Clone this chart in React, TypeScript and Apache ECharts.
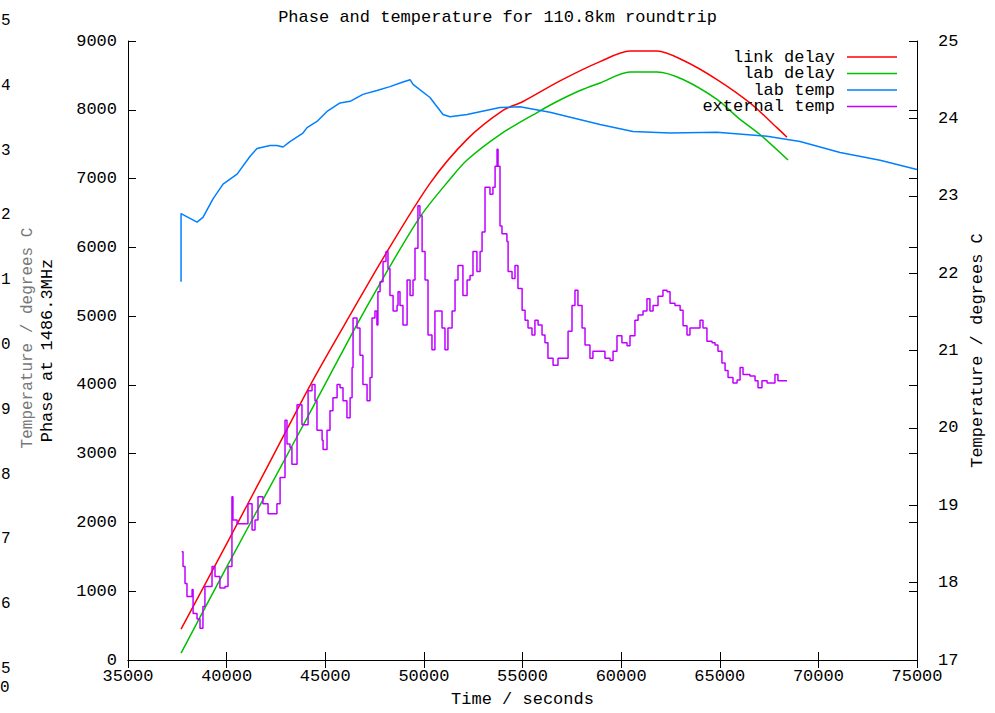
import React, { useEffect, useRef } from "react";
import * as echarts from "echarts";

const FONT = "Liberation Mono";

const titleText = "Phase and temperature for 110.8km roundtrip";
const xName = "Time / seconds";
const yLeftName = "Phase at 1486.3MHz";
const yRightName = "Temperature / degrees C";

const seriesNames = ["link delay", "lab delay", "lab temp", "external temp"];
const seriesColors = ["#ff0000", "#00c000", "#0080ff", "#c000ff"];

// [seconds, phase]
const linkDelay: number[][] = [
  [37690, 450], [40020, 1700], [42050, 2800], [44380, 4070], [46410, 5090],
  [47930, 5840], [50310, 6930], [52190, 7570], [54010, 7990], [55030, 8120],
  [56900, 8420], [58930, 8700], [60450, 8855], [61820, 8855], [63140, 8720],
  [64860, 8440], [66530, 8100], [67900, 7740], [68410, 7600],
];

const labDelay: number[][] = [
  [37690, 100], [40020, 1360], [42710, 2790], [44380, 3680], [46610, 4880],
  [47930, 5550], [49800, 6440], [51320, 6990], [52190, 7270], [53860, 7640],
  [55740, 7960], [56750, 8120], [57920, 8280], [58930, 8390], [60450, 8550],
  [61820, 8550], [63140, 8440], [64860, 8150], [66030, 7860], [67040, 7640],
  [68460, 7270],
];

// [seconds, degrees C]
const labTemp: number[][] = [
  [37690, 21.89], [37690, 22.77], [38500, 22.66], [38800, 22.72], [39310, 22.96],
  [39820, 23.15], [40530, 23.28], [41190, 23.51], [41540, 23.61], [42200, 23.65],
  [42550, 23.65], [42860, 23.63], [43210, 23.70], [43870, 23.81], [44080, 23.88],
  [44580, 23.96], [45090, 24.09], [45750, 24.20], [46260, 24.22], [46910, 24.31],
  [47620, 24.36], [48280, 24.41], [48940, 24.47], [49300, 24.50], [49450, 24.44],
  [50310, 24.27], [50970, 24.05], [51320, 24.02], [52190, 24.05], [53860, 24.14],
  [54870, 24.15], [56390, 24.08], [58930, 23.92], [60600, 23.83], [62480, 23.81],
  [64860, 23.82], [67400, 23.77], [69070, 23.70], [71100, 23.56], [73130, 23.46],
  [75000, 23.34],
];

const externalTemp: number[][] = [
  [37720, 18.40], [37790, 18.21], [37890, 17.99], [37990, 17.82], [38250, 17.91],
  [38300, 17.60], [38500, 17.53], [38650, 17.41], [38800, 17.69], [38900, 17.95],
  [39260, 18.21], [39410, 18.08], [39660, 17.93], [39920, 17.95], [40070, 18.21],
  [40270, 19.11], [40320, 18.81], [40530, 18.76], [40930, 18.76], [41080, 19.02],
  [41290, 18.68], [41440, 18.81], [41590, 19.11], [41840, 19.02], [42100, 18.89],
  [42450, 18.89], [42550, 19.02], [42710, 19.36], [42960, 20.10], [43060, 19.79],
  [43210, 19.75], [43310, 19.53], [43470, 19.53], [43570, 20.30], [43820, 20.04],
  [44080, 20.04], [44130, 20.48], [44330, 20.56], [44480, 20.35], [44580, 19.97],
  [44840, 19.84], [44890, 19.72], [45090, 19.97], [45240, 20.22], [45390, 20.39],
  [45600, 20.56], [45750, 20.52], [45900, 20.35], [46100, 20.13], [46260, 20.39],
  [46360, 20.78], [46410, 21.42], [46610, 21.29], [46760, 20.94], [46910, 20.56],
  [47120, 20.35], [47270, 20.65], [47370, 21.42], [47520, 21.51], [47620, 21.33],
  [47670, 21.76], [47780, 21.89], [47930, 22.15], [48080, 22.28], [48180, 22.06],
  [48280, 21.71], [48440, 21.51], [48640, 21.58], [48690, 21.76], [48790, 21.58],
  [48940, 21.33], [49150, 21.91], [49300, 21.71], [49450, 21.91], [49550, 22.32],
  [49700, 22.87], [49800, 22.74], [49910, 22.28], [50060, 21.91], [50210, 21.20],
  [50410, 21.01], [50560, 21.51], [50820, 21.51], [50920, 21.29], [51070, 21.01],
  [51220, 21.29], [51430, 21.51], [51580, 21.91], [51730, 22.10], [51930, 22.10],
  [51980, 21.71], [52190, 21.91], [52340, 21.97], [52490, 22.28], [52690, 22.02],
  [52850, 22.28], [52950, 22.53], [53100, 23.11], [53350, 23.02], [53500, 23.11],
  [53610, 23.38], [53710, 23.60], [53760, 23.38], [53860, 22.61], [53960, 22.51],
  [54210, 22.41], [54270, 22.02], [54470, 21.93], [54620, 22.10], [54770, 21.80],
  [54980, 21.52], [55130, 21.39], [55280, 21.29], [55480, 21.20], [55630, 21.39],
  [55790, 21.33], [55990, 21.20], [56140, 21.10], [56290, 20.90], [56550, 20.81],
  [56800, 20.90], [57160, 20.90], [57310, 21.25], [57510, 21.58], [57660, 21.78],
  [57810, 21.58], [58020, 21.29], [58170, 21.07], [58420, 20.90], [58570, 20.99],
  [58930, 20.99], [59180, 20.90], [59440, 20.87], [59590, 20.99], [59790, 21.19],
  [60040, 21.10], [60300, 21.06], [60450, 21.19], [60700, 21.39], [60860, 21.46],
  [61110, 21.51], [61310, 21.67], [61460, 21.51], [61620, 21.58], [61870, 21.70],
  [62120, 21.78], [62330, 21.76], [62480, 21.61], [62730, 21.58], [62990, 21.52],
  [63140, 21.32], [63340, 21.20], [63490, 21.29], [63850, 21.29], [64000, 21.39],
  [64150, 21.29], [64350, 21.12], [64610, 21.10], [64760, 21.07], [64910, 20.99],
  [65110, 20.84], [65270, 20.74], [65420, 20.65], [65670, 20.58], [65880, 20.62],
  [66030, 20.78], [66180, 20.69], [66530, 20.67], [66790, 20.61], [66940, 20.52],
  [67140, 20.61], [67400, 20.58], [67650, 20.58], [67800, 20.69], [67950, 20.61],
  [68410, 20.61],
];

const ghostDigits = ["5", "4", "3", "2", "1", "0", "9", "8", "7", "6", "5"];

export default function App() {
  const ref = useRef<HTMLDivElement>(null);

  useEffect(() => {
    const chart = echarts.init(ref.current!, null, { renderer: "svg" });
    const txt = { fontFamily: FONT, fontSize: 17, color: "#000" };
    const line = { lineStyle: { color: "#000", width: 1 } };
    const tick = (len: number) => ({ show: true, inside: true, length: len, lineStyle: { color: "#000", width: 1 } });
    const plain = (v: number) => String(v);

    const graphics: any[] = [];
    // clipped remnants at the far left
    ghostDigits.forEach((d, i) => {
      graphics.push({
        type: "text", left: 1, top: 13 + i * 64.8,
        style: { text: d, font: `16px "${FONT}"`, fill: "#000" }, z: 10,
      });
    });
    graphics.push({
      type: "text", left: 0, top: 680,
      style: { text: "0", font: `16px "${FONT}"`, fill: "#000" }, z: 10,
    });
    graphics.push({
      type: "text", x: 28, y: 338, rotation: Math.PI / 2,
      style: { text: yRightName, font: `16px "${FONT}"`, fill: "#777", align: "center", verticalAlign: "middle" },
      z: 10,
    });
    // legend
    seriesNames.forEach((n, i) => {
      const y = 57 + i * 16.5;
      graphics.push({
        type: "text", x: 835, y,
        style: { text: n, font: `17px "${FONT}"`, fill: "#000", align: "right", verticalAlign: "middle" },
        z: 20,
      });
      graphics.push({
        type: "line", shape: { x1: 847, y1: y, x2: 897, y2: y },
        style: { stroke: seriesColors[i], lineWidth: 1.5 }, z: 20,
      });
    });

    chart.setOption({
      animation: false,
      backgroundColor: "#fff",
      title: {
        text: titleText, left: "center", top: 4,
        textStyle: { ...txt, fontWeight: "normal" },
      },
      grid: { left: 128, right: 78, top: 41, bottom: 49 },
      xAxis: [
        {
          type: "value", min: 35000, max: 75000, interval: 5000, position: "bottom",
          name: xName, nameLocation: "middle", nameGap: 31, nameTextStyle: txt,
          axisLine: { show: true, ...line }, axisTick: tick(8),
          axisLabel: { ...txt, margin: 8, formatter: plain }, splitLine: { show: false },
        },
        {
          type: "value", min: 35000, max: 75000, interval: 5000, position: "top",
          axisLine: { show: true, ...line }, axisTick: tick(8),
          axisLabel: { show: false }, splitLine: { show: false },
        },
      ],
      yAxis: [
        {
          type: "value", min: 0, max: 9000, interval: 1000, position: "left",
          name: yLeftName, nameLocation: "middle", nameGap: 72, nameTextStyle: txt,
          axisLine: { show: true, ...line }, axisTick: tick(8),
          axisLabel: { ...txt, margin: 11, formatter: plain }, splitLine: { show: false },
        },
        {
          type: "value", min: 17, max: 25, interval: 1, position: "right",
          name: yRightName, nameLocation: "middle", nameGap: 52, nameTextStyle: txt,
          axisLine: { show: true, ...line }, axisTick: tick(8),
          axisLabel: { ...txt, margin: 21, formatter: plain }, splitLine: { show: false },
        },
        {
          type: "value", min: 0, max: 9000, interval: 1000, position: "right",
          axisLine: { show: false }, axisTick: tick(8),
          axisLabel: { show: false }, splitLine: { show: false },
        },
      ],
      series: [
        {
          name: seriesNames[0], type: "line", data: linkDelay, yAxisIndex: 0,
          showSymbol: false, smooth: 0.3,
          lineStyle: { color: seriesColors[0], width: 1.5 },
        },
        {
          name: seriesNames[1], type: "line", data: labDelay, yAxisIndex: 0,
          showSymbol: false, smooth: 0.3,
          lineStyle: { color: seriesColors[1], width: 1.5 },
        },
        {
          name: seriesNames[2], type: "line", data: labTemp, yAxisIndex: 1,
          showSymbol: false, lineStyle: { color: seriesColors[2], width: 1.5 },
        },
        {
          name: seriesNames[3], type: "line", data: externalTemp, yAxisIndex: 1,
          showSymbol: false, step: "end", lineStyle: { color: seriesColors[3], width: 1.5 },
        },
      ],
      graphic: graphics,
    });
    return () => chart.dispose();
  }, []);

  return (
    <div
      ref={ref}
      style={{ position: "fixed", left: 0, top: 0, width: 995, height: 713, background: "#fff" }}
    />
  );
}
